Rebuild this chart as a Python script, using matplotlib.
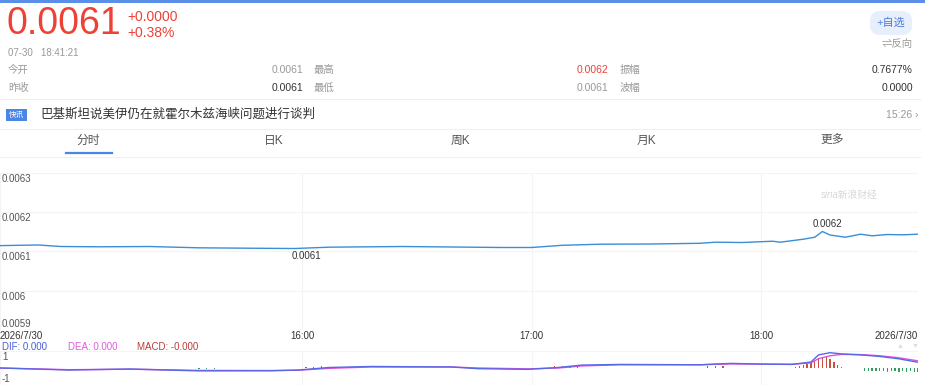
import matplotlib
matplotlib.use("Agg")
import matplotlib.pyplot as plt
from matplotlib.lines import Line2D
from matplotlib.patches import Rectangle

plt.rcParams['font.family'] = ['Liberation Sans', 'Noto Sans CJK SC', 'DejaVu Sans']

# price line (time -> price)
price_times = ["14:41", "14:51", "14:57", "15:07", "15:20", "15:33", "15:46", "15:58",
               "16:07", "16:26", "16:39", "16:52", "17:00", "17:08", "17:18", "17:31",
               "17:44", "17:48", "17:55", "18:03", "18:05", "18:11", "18:14", "18:16",
               "18:18", "18:22", "18:26", "18:29", "18:33", "18:37", "18:41"]
price_vals = [0.006115, 0.0061166, 0.0061127, 0.006112, 0.0061127, 0.0061094, 0.0061084,
              0.0061076, 0.006111, 0.0061127, 0.0061115, 0.0061102, 0.0061102, 0.0061158,
              0.0061186, 0.0061191, 0.0061209, 0.0061237, 0.0061229, 0.0061262, 0.0061237,
              0.0061313, 0.0061364, 0.006151, 0.006142, 0.0061364, 0.0061441, 0.00614,
              0.0061433, 0.0061425, 0.0061441]

# MACD panel
macd_times = ["14:41", "14:59", "15:15", "15:33", "15:52", "15:59", "16:07", "16:18",
              "16:39", "16:46", "16:59", "17:07", "17:13", "17:23", "17:44", "17:52",
              "18:00", "18:08", "18:13", "18:15", "18:18", "18:21", "18:26", "18:31",
              "18:36", "18:41"]
dif_vals = [0.0, -0.12, -0.06, -0.17, -0.16, -0.12, 0.03, 0.09, 0.06, -0.04, -0.08, 0.03,
            0.17, 0.21, 0.19, 0.27, 0.23, 0.21, 0.35, 0.77, 0.90, 0.83, 0.77, 0.68, 0.54, 0.34]
dea_vals = [0.0, -0.10, -0.07, -0.14, -0.15, -0.13, -0.02, 0.06, 0.06, 0.0, -0.05, 0.0,
            0.12, 0.19, 0.19, 0.24, 0.23, 0.22, 0.30, 0.55, 0.72, 0.80, 0.79, 0.72, 0.60, 0.42]
bar_times = ["15:33", "15:35", "15:37", "16:01", "16:03", "16:05", "16:07", "16:09",
             "17:06", "17:08", "17:10", "17:12", "17:46", "17:48", "17:50",
             "18:09", "18:10", "18:11", "18:12", "18:13", "18:14", "18:15", "18:16",
             "18:17", "18:18", "18:19", "18:20", "18:21",
             "18:27", "18:28", "18:29", "18:30", "18:31", "18:32", "18:33", "18:34",
             "18:35", "18:36", "18:37", "18:38", "18:39", "18:40", "18:41"]
bar_vals = [-0.06, -0.07, -0.06, 0.06, 0.08, 0.09, 0.08, 0.07,
            0.10, 0.12, 0.11, 0.08, 0.10, 0.12, 0.09,
            0.08, 0.12, 0.16, 0.22, 0.30, 0.40, 0.52, 0.62, 0.68, 0.55, 0.35, 0.18, 0.08,
            -0.16, -0.18, -0.2, -0.2, -0.18, -0.2, -0.22, -0.2, -0.2, -0.22, -0.2,
            -0.22, -0.2, -0.22, -0.22]

y_ticks = [0.0059, 0.006, 0.0061, 0.0062, 0.0063]
y_labels = ["0.0059", "0.006", "0.0061", "0.0062", "0.0063"]
x_ticks = ["14:41", "16:00", "17:00", "18:00", "18:41"]
x_labels = ["2026/7/30", "16:00", "17:00", "18:00", "2026/7/30"]
tabs = ["分时", "日K", "周K", "月K", "更多"]

W, H = 948, 392


def P(x, y):
    return x / W, 1 - y / H


def mins(s):
    h, m = map(int, s.split(":"))
    return h * 60 + m - (14 * 60 + 41)


fig = plt.figure(figsize=(W / 100, H / 100), dpi=100)

# ---- header ----
fig.add_artist(Rectangle(P(0, 3), 925 / W, 3 / H, transform=fig.transFigure,
                         color="#5b8ee6", lw=0))
red = "#ee4136"
grey = "#999999"
dark = "#333333"
fig.text(*P(7, 24), "0.0061", color=red, fontsize=27, va="center")
fig.text(*P(127, 17), "+0.0000", color=red, fontsize=10, va="center")
fig.text(*P(127, 33), "+0.38%", color=red, fontsize=10, va="center")
fig.text(*P(8, 53), "07-30   18:41:21", color=grey, fontsize=7, va="center")

rows = [("今开", "0.0061", grey, "最高", "0.0062", red, "振幅", "0.7677%"),
        ("昨收", "0.0061", dark, "最低", "0.0061", grey, "波幅", "0.0000")]
for i, (a, av, ac, b, bv, bc, c, cv) in enumerate(rows):
    y = 70 + 18 * i
    fig.text(*P(8, y), a, color=grey, fontsize=7.5, va="center")
    fig.text(*P(303, y), av, color=ac, fontsize=7.5, va="center", ha="right")
    fig.text(*P(314, y), b, color=grey, fontsize=7.5, va="center")
    fig.text(*P(608, y), bv, color=bc, fontsize=7.5, va="center", ha="right")
    fig.text(*P(620, y), c, color=grey, fontsize=7.5, va="center")
    fig.text(*P(913, y), cv, color=dark, fontsize=7.5, va="center", ha="right")

fig.text(*P(891, 23), "+自选", color="#4a7fd9", fontsize=8, va="center", ha="center",
         bbox=dict(boxstyle="round,pad=0.6,rounding_size=0.9", fc="#e7effc", ec="none"))
fig.text(*P(913, 44), "⇌反向", color=grey, fontsize=7.5, va="center", ha="right")

for yy in (99, 129, 157):
    fig.add_artist(Line2D([0, 920 / W], [1 - yy / H] * 2, transform=fig.transFigure,
                          color="#f0f0f0", lw=0.8))

# news row
fig.text(*P(9, 115), "快讯", color="white", fontsize=5.5, va="center",
         bbox=dict(boxstyle="square,pad=0.35", fc="#4a86e8", ec="none"))
fig.text(*P(40, 115), "巴基斯坦说美伊仍在就霍尔木兹海峡问题进行谈判", color=dark,
         fontsize=9, va="center")
fig.text(*P(918, 115), "15:26 ›", color=grey, fontsize=7.5, va="center", ha="right")

# tabs
for i, t in enumerate(tabs):
    fig.text(*P(88 + 186 * i, 141), t, color="#555555", fontsize=8.5, va="center", ha="center")
fig.add_artist(Line2D([66 / W, 112 / W], [1 - 153 / H] * 2, transform=fig.transFigure,
                      color="#4a86e8", lw=1.6))

# ---- price chart ----
ax = fig.add_axes([0, 1 - 330 / H, 918 / W, 157 / H])
px = [mins(t) for t in price_times]
ax.plot(px, price_vals, color="#3a8ed8", lw=1.0)
ax.set_xlim(0, 240)
ax.set_ylim(0.0059, 0.0063)
ax.set_yticks(y_ticks)
ax.set_yticklabels([])
ax.tick_params(length=0, labelsize=7, colors=dark, pad=0.5)
ax.set_xticks([mins(t) for t in x_ticks])
ax.set_xticklabels(x_labels)
tl = ax.get_xticklabels()
tl[0].set_ha("left")
tl[-1].set_ha("right")
ax.grid(True, color="#f4f4f4", lw=0.8)
for s in ax.spines.values():
    s.set_visible(False)
for v, lab in zip(y_ticks, y_labels):
    last = v == y_ticks[0]
    ax.annotate(lab, xy=(0, v), xycoords=("axes fraction", "data"),
                xytext=(2, 1 if last else -1), textcoords="offset pixels",
                va="bottom" if last else "top", fontsize=7, color="#555555")

imin = price_vals.index(min(price_vals))
imax = price_vals.index(max(price_vals))
ax.annotate("0.0061", xy=(px[imin], price_vals[imin]), xytext=(-3, -2),
            textcoords="offset pixels", va="top", ha="left", fontsize=7, color=dark)
ax.annotate("0.0062", xy=(px[imax], price_vals[imax]), xytext=(5, 2),
            textcoords="offset pixels", va="bottom", ha="center", fontsize=7, color=dark)
ax.text(0.925, 0.86, "sina新浪财经", transform=ax.transAxes, ha="center", va="center",
        fontsize=7, color="#d8d8d8", style="italic")

# ---- MACD panel ----
mx = fig.add_axes([0, 1 - 385 / H, 918 / W, 34 / H])
mt = [mins(t) for t in macd_times]
bt = [mins(t) for t in bar_times]
mx.bar(bt, bar_vals, width=0.35,
       color=["#c8503c" if v > 0 else "#2e9e5b" for v in bar_vals])
mx.plot(mt, dea_vals, color="#e34fe3", lw=1.0)
mx.plot(mt, dif_vals, color="#5668e6", lw=1.0)
mx.set_xlim(0, 240)
mx.set_ylim(-1, 1)
mx.set_yticks([-1, 1])
mx.set_yticklabels([])
mx.set_xticks([mins(t) for t in x_ticks])
mx.set_xticklabels([])
mx.tick_params(length=0)
mx.grid(True, color="#f4f4f4", lw=0.8)
for s in mx.spines.values():
    s.set_visible(False)
mx.annotate("1", xy=(0, 1), xycoords=("axes fraction", "data"), xytext=(2, -1),
            textcoords="offset pixels", va="top", fontsize=7, color="#555555")
mx.annotate("-1", xy=(0, -1), xycoords=("axes fraction", "data"), xytext=(2, 1),
            textcoords="offset pixels", va="bottom", fontsize=7, color="#555555")
fig.text(*P(2, 346.5), "DIF: 0.000", color="#4a5fd8", fontsize=7, va="center")
fig.text(*P(68, 346.5), "DEA: 0.000", color="#e05ae0", fontsize=7, va="center")
fig.text(*P(137, 346.5), "MACD: -0.000", color="#b83c3c", fontsize=7, va="center")
fig.text(*P(900, 346), "▲", color="#dddddd", fontsize=5, va="center", ha="center")
fig.text(*P(915, 346), "▼", color="#dddddd", fontsize=5, va="center", ha="center")

fig.savefig("out.png", dpi=100)
